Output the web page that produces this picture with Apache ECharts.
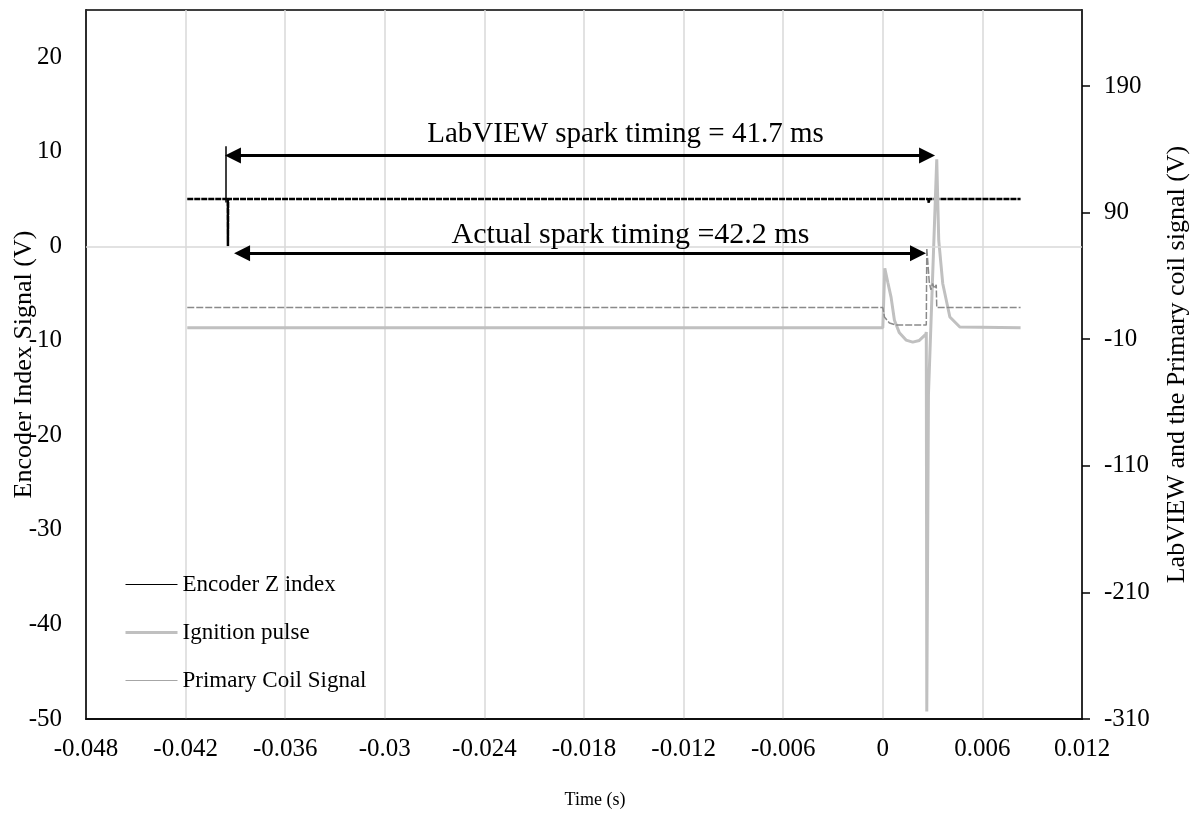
<!DOCTYPE html>
<html><head><meta charset="utf-8">
<script src="https://cdn.jsdelivr.net/npm/echarts@6/dist/echarts.min.js"></script>
<style>html,body{margin:0;padding:0;background:#fff}#c{width:1202px;height:816px}</style>
</head><body><div id="c"></div>
<script>
// ---- data ----
const seriesNames = ['Encoder Z index', 'Ignition pulse', 'Primary Coil Signal'];

// Encoder Z index (left axis, V)
const encoderT = [-0.0419, -0.03946, -0.03945, -0.03944, 0.00274, 0.00277, 0.00280, 0.0083];
const encoderV = [5.0, 5.0, 0.0, 5.0, 5.0, 4.6, 5.0, 5.0];

// Ignition pulse (right axis, V)
const ignitionT = [-0.0419, 0.0000, 0.00012, 0.0003, 0.0005, 0.0007, 0.0010, 0.0014, 0.0018, 0.0022, 0.0026, 0.00262, 0.00265, 0.00275, 0.00325, 0.00337, 0.00361, 0.00404, 0.00464, 0.0083];
const ignitionV = [-1, -1, 46, 35, 23, 5, -5, -10.7, -12.3, -11, -6, -4.4, -304, -54, 132, 68, 34, 7.5, -0.4, -1];

// Primary coil signal (right axis, V)
const primaryT = [-0.0419, 0.0000, 0.0001, 0.0004, 0.0008, 0.00262, 0.00265, 0.0028, 0.0029, 0.0030, 0.0031, 0.00322, 0.00325, 0.0083];
const primaryV = [15, 15, 7.5, 2.8, 1.2, 1.2, 62, 35, 29, 34, 30, 33, 15, 15];

// Annotations (left-axis units)
const labviewArrow = [[-0.03915, 9.62], [0.002665, 9.62]];
const actualArrow = [[-0.0386, -0.74], [0.00212, -0.74]];
const bracketLine = [[-0.03957, 10.6], [-0.03957, 4.65]];
const labviewText = 'LabVIEW spark timing = 41.7 ms';
const labviewTextAt = [-0.0155, 11.8];
const actualText = 'Actual spark timing =42.2 ms';
const actualTextAt = [-0.0152, 1.2];

const zip = (t, v) => t.map((x, i) => [x, v[i]]);

const FONT = '"Liberation Serif", "Times New Roman", serif';
const chart = echarts.init(document.getElementById('c'), null, {renderer: 'canvas'});
const noSymbol = {color: 'rgba(0,0,0,0)', borderWidth: 0, borderColor: 'rgba(0,0,0,0)'};

const option = {
  animation: false,
  backgroundColor: '#fff',
  textStyle: {fontFamily: FONT, color: '#000'},
  grid: {left: 86, right: 120, top: 10, bottom: 97, outerBoundsMode: 'none', containLabel: false,
         show: true, borderColor: '#000', borderWidth: 1.5, backgroundColor: 'transparent'},
  legend: {
    orient: 'vertical', left: 124, top: 573, padding: 0, itemWidth: 52, itemHeight: 14, itemGap: 25,
    textStyle: {fontFamily: FONT, fontSize: 23, color: '#000'},
    data: [
      {name: seriesNames[0], itemStyle: noSymbol, lineStyle: {type: 'solid', width: 1, color: '#000'}},
      {name: seriesNames[1], itemStyle: noSymbol, lineStyle: {type: 'solid', width: 3, color: '#c0c0c0'}},
      {name: seriesNames[2], itemStyle: noSymbol, lineStyle: {type: 'solid', width: 1.2, color: '#a6a6a6'}}
    ]
  },
  xAxis: {
    type: 'value', min: -0.048, max: 0.012, interval: 0.006,
    name: 'Time (s)', nameLocation: 'middle', nameGap: 72, nameMoveOverlap: false,
    nameTextStyle: {fontFamily: FONT, fontSize: 18, color: '#000', padding: [0, 0, 0, 22]},
    axisLine: {show: true, onZero: false, lineStyle: {color: '#000', width: 1.5}},
    axisTick: {show: false},
    axisLabel: {fontFamily: FONT, fontSize: 25, color: '#000', margin: 18},
    splitLine: {show: true, lineStyle: {color: '#d9d9d9', width: 1.5}}
  },
  yAxis: [
    {
      type: 'value', min: -50, max: 25, interval: 10, position: 'left',
      name: 'Encoder Index Signal (V)', nameLocation: 'middle', nameGap: 49, nameRotate: 90, nameMoveOverlap: false,
      nameTextStyle: {fontFamily: FONT, fontSize: 26, color: '#000'},
      axisLine: {show: true, onZero: false, lineStyle: {color: '#000', width: 1.5}},
      axisTick: {show: false},
      axisLabel: {fontFamily: FONT, fontSize: 25, color: '#000', margin: 24, showMaxLabel: false},
      splitLine: {show: false}
    },
    {
      type: 'value', min: -310, max: 250, interval: 100, position: 'right',
      name: 'LabVIEW and the Primary coil signal (V)', nameLocation: 'middle', nameGap: 82, nameRotate: 90, nameMoveOverlap: false,
      nameTextStyle: {fontFamily: FONT, fontSize: 26, color: '#000'},
      axisLine: {show: true, onZero: false, lineStyle: {color: '#000', width: 1.5}},
      axisTick: {show: true, inside: false, length: 8, lineStyle: {color: '#000', width: 1.5}},
      axisLabel: {fontFamily: FONT, fontSize: 25, color: '#000', margin: 22, showMaxLabel: false},
      splitLine: {show: false}
    }
  ],
  series: [
    {
      name: seriesNames[0], type: 'line', yAxisIndex: 0, showSymbol: false, symbol: 'none',
      data: zip(encoderT, encoderV),
      lineStyle: {color: '#000', width: 2.5, type: [6, 1]},
      itemStyle: {color: '#000'},
      z: 2,
      markLine: {
        silent: true, animation: false,
        label: {show: false},
        emphasis: {disabled: true},
        data: [
          [{coord: [-0.048, 0], symbol: 'none', lineStyle: {color: '#d9d9d9', width: 1.5, type: 'solid'}},
           {coord: [0.012, 0], symbol: 'none'}],
          [{coord: bracketLine[0], symbol: 'none', lineStyle: {color: '#000', width: 1.5, type: 'solid'}},
           {coord: bracketLine[1], symbol: 'none'}],
          [{coord: labviewArrow[0], symbol: 'triangle', symbolSize: [16, 16], lineStyle: {color: '#000', width: 3, type: 'solid'}},
           {coord: labviewArrow[1], symbol: 'triangle', symbolSize: [16, 16]}],
          [{coord: actualArrow[0], symbol: 'triangle', symbolSize: [16, 16], lineStyle: {color: '#000', width: 3, type: 'solid'}},
           {coord: actualArrow[1], symbol: 'triangle', symbolSize: [16, 16]}]
        ],
        itemStyle: {color: '#000'}
      },
      markPoint: {
        silent: true, animation: false,
        symbol: 'circle', symbolSize: 0,
        data: [
          {coord: labviewTextAt, label: {show: true, position: 'inside', formatter: labviewText, fontFamily: FONT, fontSize: 29, color: '#000'}},
          {coord: actualTextAt, label: {show: true, position: 'inside', formatter: actualText, fontFamily: FONT, fontSize: 30, color: '#000'}}
        ]
      }
    },
    {
      name: seriesNames[1], type: 'line', yAxisIndex: 1, showSymbol: false, symbol: 'none',
      data: zip(ignitionT, ignitionV),
      lineStyle: {color: '#c0c0c0', width: 3},
      itemStyle: {color: '#c0c0c0'},
      z: 3
    },
    {
      name: seriesNames[2], type: 'line', yAxisIndex: 1, showSymbol: false, symbol: 'none',
      data: zip(primaryT, primaryV),
      lineStyle: {color: '#8a8a8a', width: 1.5, type: [7, 2]},
      itemStyle: {color: '#8a8a8a'},
      z: 4
    }
  ]
};
chart.setOption(option);
</script>
</body></html>
